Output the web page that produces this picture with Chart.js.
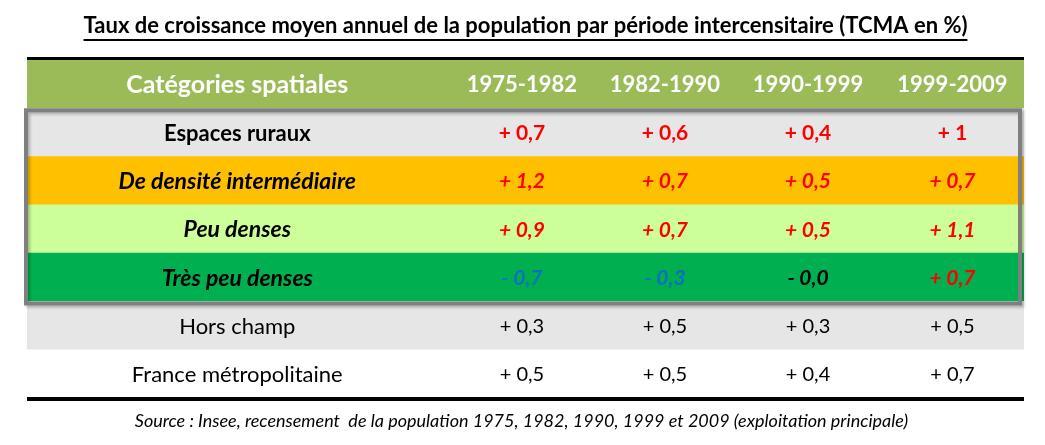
<!DOCTYPE html>
<html lang="fr">
<head>
<meta charset="utf-8">
<script src="https://cdn.jsdelivr.net/npm/chart.js@4/dist/chart.umd.min.js"></script>
<style>
  html, body { margin: 0; padding: 0; background: #fff; }
  #wrap { width: 1045px; height: 445px; position: relative; }
</style>
</head>
<body>
<div id="wrap"><canvas id="tcma"></canvas></div>
<script>
// ---- data ----
const titre = 'Taux de croissance moyen annuel de la population par période intercensitaire (TCMA en %)';
const source = 'Source : Insee, recensement  de la population 1975, 1982, 1990, 1999 et 2009 (exploitation principale)';
const enTete = 'Catégories spatiales';
const periodes = ['1975-1982', '1982-1990', '1990-1999', '1999-2009'];
const categories = ['Espaces ruraux', 'De densité intermédiaire', 'Peu denses', 'Très peu denses', 'Hors champ', 'France métropolitaine'];
const espacesRuraux = [0.7, 0.6, 0.4, 1];
const densiteIntermediaire = [1.2, 0.7, 0.5, 0.7];
const peuDenses = [0.9, 0.7, 0.5, 1.1];
const tresPeuDenses = [-0.7, -0.3, -0, 0.7];
const horsChamp = [0.3, 0.5, 0.3, 0.5];
const franceMetro = [0.5, 0.5, 0.4, 0.7];

// ---- layout / style ----
const FONT = 'Lato, "Liberation Sans", sans-serif';
const X_MAX = 6.97;
const colCenters = [1.47, 3.46, 4.46, 5.46, 6.47];
const rowColors = ['#9bbb59', '#e6e6e6', '#ffc000', '#ccff99', '#00b050', '#e6e6e6', '#ffffff'];
const rowStyles = [
  { font: 'bold 25px', color: '#ffffff', valFont: 'bold 22px' },
  { font: 'bold 22px', color: '#000000', valFont: 'bold 21px' },
  { font: 'italic bold 23px', color: '#000000', valFont: 'italic bold 21px' },
  { font: 'italic bold 23px', color: '#000000', valFont: 'italic bold 21px' },
  { font: 'italic bold 23px', color: '#000000', valFont: 'italic bold 21px' },
  { font: '22px', color: '#000000', valFont: '20px' },
  { font: '22px', color: '#000000', valFont: '20px' }
];
const rowLabels = [enTete, ...categories];
const rowValues = [periodes, espacesRuraux, densiteIntermediaire, peuDenses, tresPeuDenses, horsChamp, franceMetro];

const fmt = (v) => {
  const neg = v < 0 || Object.is(v, -0);
  const a = Math.abs(v);
  const txt = (Number.isInteger(a) && a !== 0) ? String(a) : a.toFixed(1).replace('.', ',');
  return (neg ? '- ' : '+ ') + txt;
};

const valueColor = (row, v) => {
  if (row >= 5) return '#000000';
  if (Object.is(v, -0)) return '#000000';
  return v < 0 ? '#0070c0' : '#ff0000';
};

// ---- table text, rules and frame ----
const tablePlugin = {
  id: 'tablePlugin',
  afterDatasetsDraw(chart) {
    const { ctx, chartArea: a, scales: { x, y } } = chart;
    const band = (y.getPixelForValue(1) - y.getPixelForValue(0));
    ctx.save();

    // black rules
    ctx.fillStyle = '#000';
    ctx.fillRect(a.left, a.top - 3, a.right - a.left, 3);
    ctx.fillRect(a.left, a.bottom - 1, a.right - a.left, 4);

    // grey frame round the rural rows
    const fTop = y.getPixelForValue(1) - band / 2;
    const fBot = y.getPixelForValue(4) + band / 2;
    ctx.shadowColor = 'rgba(0,0,0,0.25)';
    ctx.shadowOffsetX = 2;
    ctx.shadowOffsetY = 2;
    ctx.shadowBlur = 3;
    ctx.strokeStyle = '#7f7f7f';
    ctx.lineWidth = 4;
    ctx.strokeRect(a.left - 1, fTop + 2, a.right - a.left - 3, fBot - fTop);
    ctx.shadowColor = 'transparent';

    // cells
    ctx.textAlign = 'center';
    ctx.textBaseline = 'middle';
    rowLabels.forEach((label, r) => {
      const py = y.getPixelForValue(r) + 1;
      const st = rowStyles[r];
      ctx.font = `${st.font} ${FONT}`;
      ctx.fillStyle = st.color;
      ctx.fillText(label, x.getPixelForValue(colCenters[0]), py);
      ctx.font = `${st.valFont} ${FONT}`;
      rowValues[r].forEach((v, c) => {
        const px = x.getPixelForValue(colCenters[c + 1]);
        if (r === 0) {
          ctx.fillText(v, px, py);
        } else {
          ctx.fillStyle = valueColor(r, v);
          ctx.fillText(fmt(v), px, py);
        }
      });
    });

    // title, underlined
    ctx.fillStyle = '#000';
    ctx.font = `bold 22px ${FONT}`;
    const cx = (a.left + a.right) / 2;
    ctx.fillText(titre, cx, 26, 910);
    const tw = Math.min(ctx.measureText(titre).width, 910);
    ctx.fillRect(cx - tw / 2, 39, tw, 2);

    // source
    ctx.font = `italic 18px ${FONT}`;
    ctx.fillText(source, cx - 4, 421, 785);
    ctx.restore();
  }
};

new Chart(document.getElementById('tcma'), {
  type: 'bar',
  data: {
    labels: rowLabels,
    datasets: [{
      data: rowLabels.map(() => [0, X_MAX]),
      backgroundColor: rowColors,
      borderWidth: 0,
      barPercentage: 1,
      categoryPercentage: 1
    }]
  },
  options: {
    indexAxis: 'y',
    responsive: true,
    maintainAspectRatio: false,
    animation: false,
    layout: { padding: { left: 27, right: 21, top: 60, bottom: 47 } },
    plugins: { legend: { display: false }, tooltip: { enabled: false }, title: { display: false } },
    scales: {
      x: { type: 'linear', min: 0, max: X_MAX, display: false },
      y: { type: 'category', display: false, offset: true }
    }
  },
  plugins: [tablePlugin]
});
</script>
</body>
</html>
